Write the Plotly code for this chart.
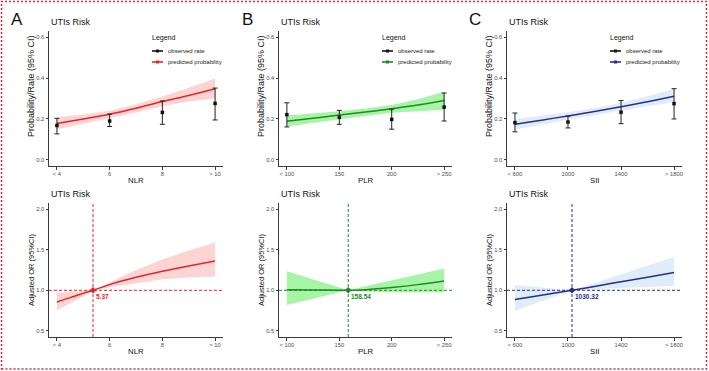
import plotly.graph_objects as go

W, H = 709, 371
FONT = "Liberation Sans, Arial, sans-serif"

# ---------------- data ----------------
# Panel A (NLR)
nlr_ticks = [4, 6, 8, 10]
nlr_ticktext = ["< 4", "6", "8", "> 10"]
nlr_obs_x = [4, 6, 8, 10]
nlr_obs = [0.168, 0.190, 0.232, 0.276]
nlr_obs_lo = [0.127, 0.163, 0.174, 0.195]
nlr_obs_hi = [0.203, 0.224, 0.288, 0.351]
nlr_pred_x = [4, 5, 6, 7, 8, 9, 10]
nlr_pred = [0.178, 0.200, 0.223, 0.252, 0.285, 0.315, 0.348]
nlr_pred_hi = [0.208, 0.222, 0.240, 0.272, 0.310, 0.352, 0.398]
nlr_pred_lo = [0.150, 0.177, 0.203, 0.232, 0.262, 0.285, 0.300]
nlr_or_x = [4, 4.5, 5, 5.37, 6, 7, 8, 9, 10]
nlr_or = [0.855, 0.910, 0.962, 1.000, 1.070, 1.160, 1.235, 1.300, 1.362]
nlr_or_hi = [0.965, 0.985, 0.996, 1.000, 1.100, 1.250, 1.380, 1.490, 1.590]
nlr_or_lo = [0.755, 0.840, 0.925, 1.000, 1.040, 1.085, 1.135, 1.160, 1.170]
nlr_ref = 5.37

# Panel B (PLR)
plr_ticks = [100, 150, 200, 250]
plr_ticktext = ["< 100", "150", "200", "> 250"]
plr_obs_x = [100, 150, 200, 250]
plr_obs = [0.221, 0.208, 0.198, 0.258]
plr_obs_lo = [0.161, 0.174, 0.150, 0.190]
plr_obs_hi = [0.279, 0.242, 0.248, 0.327]
plr_pred_x = [100, 125, 150, 175, 200, 225, 250]
plr_pred = [0.189, 0.203, 0.219, 0.234, 0.250, 0.268, 0.290]
plr_pred_hi = [0.217, 0.226, 0.238, 0.251, 0.268, 0.296, 0.333]
plr_pred_lo = [0.163, 0.181, 0.199, 0.215, 0.230, 0.239, 0.245]
plr_or_x = [100, 125, 158.54, 175, 200, 225, 250]
plr_or = [1.008, 1.005, 1.000, 1.008, 1.035, 1.070, 1.115]
plr_or_hi = [1.235, 1.135, 1.000, 1.050, 1.124, 1.200, 1.270]
plr_or_lo = [0.820, 0.897, 1.000, 0.985, 0.975, 0.972, 0.975]
plr_ref = 158.54

# Panel C (SII)
sii_ticks = [600, 1000, 1400, 1800]
sii_ticktext = ["< 600", "1000", "1400", "> 1800"]
sii_obs_x = [600, 1000, 1400, 1800]
sii_obs = [0.182, 0.185, 0.233, 0.275]
sii_obs_lo = [0.137, 0.156, 0.177, 0.200]
sii_obs_hi = [0.229, 0.214, 0.290, 0.348]
sii_pred_x = [600, 800, 1000, 1200, 1400, 1600, 1800]
sii_pred = [0.174, 0.194, 0.215, 0.237, 0.260, 0.284, 0.311]
sii_pred_hi = [0.200, 0.215, 0.233, 0.253, 0.279, 0.311, 0.348]
sii_pred_lo = [0.148, 0.172, 0.197, 0.221, 0.242, 0.262, 0.283]
sii_or_x = [600, 800, 1030.32, 1200, 1400, 1600, 1800]
sii_or = [0.887, 0.940, 1.000, 1.048, 1.105, 1.161, 1.218]
sii_or_hi = [1.065, 1.035, 1.000, 1.090, 1.197, 1.303, 1.410]
sii_or_lo = [0.745, 0.864, 1.000, 1.012, 1.027, 1.041, 1.056]
sii_ref = 1030.32

top_yticks = [0.0, 0.2, 0.4, 0.6]
top_yticktext = ["0.0", "0.2", "0.4", "0.6"]
bot_yticks = [0.5, 1.0, 1.5, 2.0]
bot_yticktext = ["0.5", "1.0", "1.5", "2.0"]

panels = [
    dict(letter="A", name="NLR", ticks=nlr_ticks, ticktext=nlr_ticktext,
         ox=nlr_obs_x, o=nlr_obs, olo=nlr_obs_lo, ohi=nlr_obs_hi,
         px=nlr_pred_x, p=nlr_pred, phi=nlr_pred_hi, plo=nlr_pred_lo,
         rx=nlr_or_x, r=nlr_or, rhi=nlr_or_hi, rlo=nlr_or_lo, ref=nlr_ref,
         line="#E3262B", band="rgba(240,60,60,0.22)", ref_fmt="{:.2f}",
         left=49, right=223),
    dict(letter="B", name="PLR", ticks=plr_ticks, ticktext=plr_ticktext,
         ox=plr_obs_x, o=plr_obs, olo=plr_obs_lo, ohi=plr_obs_hi,
         px=plr_pred_x, p=plr_pred, phi=plr_pred_hi, plo=plr_pred_lo,
         rx=plr_or_x, r=plr_or, rhi=plr_or_hi, rlo=plr_or_lo, ref=plr_ref,
         line="#1E8A22", band="rgba(60,230,60,0.45)", ref_fmt="{:.2f}",
         left=279, right=452),
    dict(letter="C", name="SII", ticks=sii_ticks, ticktext=sii_ticktext,
         ox=sii_obs_x, o=sii_obs, olo=sii_obs_lo, ohi=sii_obs_hi,
         px=sii_pred_x, p=sii_pred, phi=sii_pred_hi, plo=sii_pred_lo,
         rx=sii_or_x, r=sii_or, rhi=sii_or_hi, rlo=sii_or_lo, ref=sii_ref,
         line="#2A2D8E", band="rgba(150,195,235,0.3)", ref_fmt="{:.2f}",
         left=507, right=682),
]

TOP_PX = (31, 166)
BOT_PX = (203, 337)

def ydom(px):
    return [1 - px[1] / H, 1 - px[0] / H]

fig = go.Figure()
shapes = []
annotations = []
layout_axes = {}

axis_common = dict(showgrid=False, zeroline=False, showline=True,
                   linecolor="#3a3a3a", linewidth=1, ticks="outside",
                   ticklen=2.5, tickwidth=1, tickcolor="#3a3a3a",
                   tickfont=dict(family=FONT, size=5.8, color="#4D4D4D"),
                   fixedrange=True)

for i, pn in enumerate(panels):
    xt, yt = i + 1, i + 1          # top axes index
    xb, yb = i + 4, i + 4          # bottom axes index
    xr = [pn["ticks"][0], pn["ticks"][-1]]
    pad = (xr[1] - xr[0]) * 0.05
    xrange = [xr[0] - pad, xr[1] + pad]
    xdom = [pn["left"] / W, pn["right"] / W]

    for idx, ydomain, yr, yv, ytxt in [
        (xt, ydom(TOP_PX), [-0.03, 0.63], top_yticks, top_yticktext),
        (xb, ydom(BOT_PX), [0.425, 2.075], bot_yticks, bot_yticktext),
    ]:
        sx = "" if idx == 1 else str(idx)
        layout_axes["xaxis" + sx] = dict(axis_common, domain=xdom, range=xrange,
                                         tickvals=pn["ticks"], ticktext=pn["ticktext"],
                                         anchor="y" + sx)
        layout_axes["yaxis" + sx] = dict(axis_common, domain=ydomain, range=yr,
                                         tickvals=yv, ticktext=ytxt,
                                         anchor="x" + sx)

    stx = "x" if xt == 1 else "x" + str(xt)
    sty = "y" if yt == 1 else "y" + str(yt)
    sbx = "x" + str(xb)
    sby = "y" + str(yb)

    # ---- top: predicted band + line, observed points with error bars
    fig.add_trace(go.Scatter(x=pn["px"] + pn["px"][::-1], y=pn["phi"] + pn["plo"][::-1],
                             fill="toself", fillcolor=pn["band"], line=dict(width=0),
                             mode="lines", hoverinfo="skip", showlegend=False,
                             xaxis=stx, yaxis=sty))
    fig.add_trace(go.Scatter(x=pn["px"], y=pn["p"], mode="lines",
                             line=dict(color=pn["line"], width=1.5, shape="spline"),
                             showlegend=False, xaxis=stx, yaxis=sty))
    fig.add_trace(go.Scatter(x=pn["ox"], y=pn["o"], mode="markers",
                             marker=dict(color="#111111", size=3.5, symbol="square"),
                             error_y=dict(type="data", symmetric=False,
                                          array=[h - v for h, v in zip(pn["ohi"], pn["o"])],
                                          arrayminus=[v - l for l, v in zip(pn["olo"], pn["o"])],
                                          color="#222222", thickness=1, width=2.5),
                             showlegend=False, xaxis=stx, yaxis=sty))

    # ---- bottom: OR band + line + reference
    fig.add_trace(go.Scatter(x=pn["rx"] + pn["rx"][::-1], y=pn["rhi"] + pn["rlo"][::-1],
                             fill="toself", fillcolor=pn["band"], line=dict(width=0),
                             mode="lines", hoverinfo="skip", showlegend=False,
                             xaxis=sbx, yaxis=sby))
    fig.add_trace(go.Scatter(x=pn["rx"], y=pn["r"], mode="lines",
                             line=dict(color=pn["line"], width=1.5, shape="spline"),
                             showlegend=False, xaxis=sbx, yaxis=sby))
    shapes.append(dict(type="line", xref=sbx, yref=sby + " domain",
                       x0=pn["ref"], x1=pn["ref"], y0=0, y1=1,
                       line=dict(color=pn["line"], width=1, dash="3px,2px")))
    shapes.append(dict(type="line", xref=sbx + " domain", yref=sby,
                       x0=0, x1=1, y0=1.0, y1=1.0,
                       line=dict(color=pn["line"], width=1, dash="3px,2px")))
    fig.add_trace(go.Scatter(x=[pn["ref"]], y=[1.0], mode="markers",
                             marker=dict(color=pn["line"], size=5, symbol="diamond"),
                             showlegend=False, xaxis=sbx, yaxis=sby))
    annotations.append(dict(x=pn["ref"], y=1.0, xref=sbx, yref=sby,
                            text="<b>" + pn["ref_fmt"].format(pn["ref"]) + "</b>",
                            showarrow=False, xanchor="left", yanchor="top",
                            xshift=1, yshift=-1,
                            font=dict(family=FONT, size=6.5, color=pn["line"])))

    # ---- texts
    cx = (pn["left"] + pn["right"]) / 2 / W
    annotations.append(dict(x=(pn["left"] - 32) / W, y=1 - 19 / H, xref="paper", yref="paper",
                            text=pn["letter"], showarrow=False, xanchor="center", yanchor="middle",
                            font=dict(family=FONT, size=17, color="#111111")))
    for ty in (22, 194):
        annotations.append(dict(x=pn["left"] / W, y=1 - ty / H, xref="paper", yref="paper",
                                text="UTIs Risk", showarrow=False, xanchor="left", yanchor="middle",
                                font=dict(family=FONT, size=9, color="#111111")))
    for ty in (180, 351):
        annotations.append(dict(x=cx, y=1 - ty / H, xref="paper", yref="paper",
                                text=pn["name"], showarrow=False, xanchor="center", yanchor="middle",
                                font=dict(family=FONT, size=7.8, color="#111111")))
    annotations.append(dict(x=(pn["left"] - 18) / W, y=1 - 86 / H,
                            xref="paper", yref="paper", text="Probability/Rate (95% CI)",
                            textangle=-90, showarrow=False, xanchor="center", yanchor="middle",
                            font=dict(family=FONT, size=9, color="#111111")))
    annotations.append(dict(x=(pn["left"] - 18) / W, y=1 - (BOT_PX[0] + BOT_PX[1]) / 2 / H,
                            xref="paper", yref="paper", text="Adjusted OR (95%CI)",
                            textangle=-90, showarrow=False, xanchor="center", yanchor="middle",
                            font=dict(family=FONT, size=7.5, color="#111111")))

    # ---- legend (manual)
    lx = pn["left"] + 101
    annotations.append(dict(x=lx / W, y=1 - 38 / H, xref="paper", yref="paper",
                            text="Legend", showarrow=False, xanchor="left", yanchor="middle",
                            font=dict(family=FONT, size=7, color="#111111")))
    for ly, col, lab in [(51, "#111111", "observed rate"), (62, pn["line"], "predicted probability")]:
        shapes.append(dict(type="line", xref="paper", yref="paper",
                           x0=(lx + 2) / W, x1=(lx + 13) / W, y0=1 - ly / H, y1=1 - ly / H,
                           line=dict(color=col, width=1.6)))
        shapes.append(dict(type="rect", xref="paper", yref="paper",
                           x0=(lx + 6) / W, x1=(lx + 9) / W,
                           y0=1 - (ly + 1.5) / H, y1=1 - (ly - 1.5) / H,
                           line=dict(width=0), fillcolor=col))
        annotations.append(dict(x=(lx + 16) / W, y=1 - ly / H, xref="paper", yref="paper",
                                text=lab, showarrow=False, xanchor="left", yanchor="middle",
                                font=dict(family=FONT, size=6, color="#222222")))

# outer dashed border
shapes.append(dict(type="rect", xref="paper", yref="paper",
                   x0=1.5 / W, x1=1 - 2.5 / W, y0=2 / H, y1=1 - 1.5 / H,
                   line=dict(color="#C8303A", width=1.5, dash="2px,2px")))

fig.update_layout(width=W, height=H, margin=dict(l=0, r=0, t=0, b=0),
                  paper_bgcolor="white", plot_bgcolor="white",
                  showlegend=False, shapes=shapes, annotations=annotations,
                  font=dict(family=FONT), **layout_axes)

fig.write_html("out.html", config={"displayModeBar": False},
               post_script="document.body.style.margin='0';document.body.style.overflow='hidden';")
